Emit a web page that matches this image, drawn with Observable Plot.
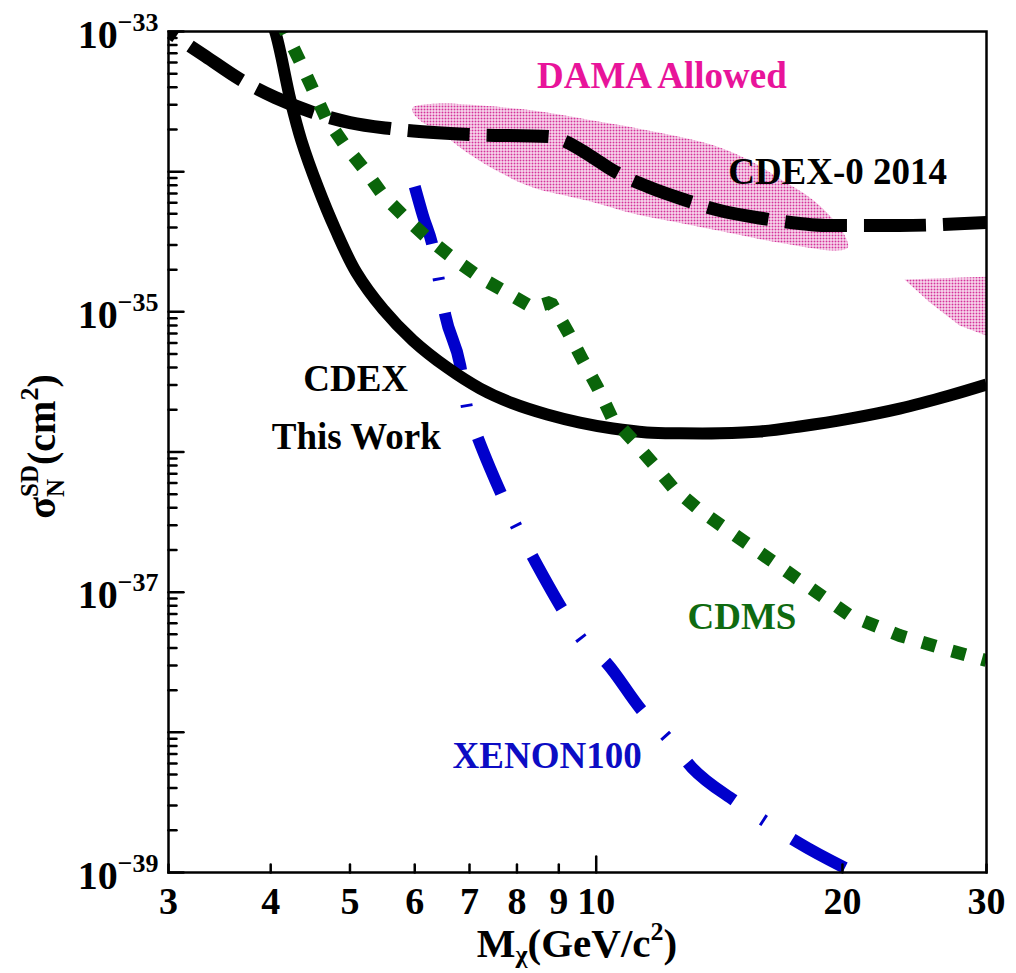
<!DOCTYPE html>
<html>
<head>
<meta charset="utf-8">
<script src="https://cdn.jsdelivr.net/npm/d3@7"></script>
<script src="https://cdn.jsdelivr.net/npm/@observablehq/plot@0.6"></script>
<style>
  html, body { margin: 0; padding: 0; background: #fff; }
  #chart svg { display: block; }
</style>
</head>
<body>
<div id="chart"></div>
<script>
// ---------- data (WIMP mass in GeV/c^2, SD cross section in cm^2) ----------
const cdexMass  = [3.95, 4.05, 4.23, 4.36, 4.57, 4.80, 5.09, 5.49, 5.97, 6.57, 7.21, 7.91, 8.71, 9.55, 10.48, 11.53, 12.66, 14.16, 15.85, 17.74, 20.41, 23.49, 27.04, 30.0];
const cdexSigma = [1.41e-33, 1.0e-33, 3.22e-34, 1.67e-34, 7.71e-35, 3.86e-35, 1.91e-35, 1.04e-35, 6.25e-36, 4.01e-36, 2.84e-36, 2.22e-36, 1.85e-36, 1.62e-36, 1.47e-36, 1.38e-36, 1.36e-36, 1.36e-36, 1.40e-36, 1.52e-36, 1.73e-36, 2.04e-36, 2.53e-36, 3.03e-36];

const cdex0Mass  = [3.00, 3.33, 3.67, 4.05, 4.51, 5.00, 5.60, 7.01, 8.73, 9.11, 9.83, 10.48, 11.63, 12.91, 14.16, 15.98, 17.74, 19.08, 23.49, 30.0];
const cdex0Sigma = [1.0e-33, 6.64e-34, 4.55e-34, 3.38e-34, 2.64e-34, 2.24e-34, 2.03e-34, 1.84e-34, 1.78e-34, 1.67e-34, 1.30e-34, 1.02e-34, 7.71e-35, 6.22e-35, 5.28e-35, 4.63e-35, 4.27e-35, 4.13e-35, 4.13e-35, 4.34e-35];

const cdmsMass  = [4.11, 4.17, 4.35, 4.51, 4.67, 4.93, 5.22, 5.49, 5.84, 6.23, 6.69, 7.21, 7.78, 8.37, 8.80, 9.24, 9.63, 10.05, 10.45, 11.09, 11.73, 12.41, 13.39, 15.41, 17.74, 20.41, 23.49, 27.04, 30.0];
const cdmsSigma = [1.2e-33, 1.0e-33, 6.01e-34, 3.79e-34, 2.43e-34, 1.54e-34, 1.02e-34, 6.76e-35, 4.71e-35, 3.33e-35, 2.40e-35, 1.76e-35, 1.37e-35, 1.07e-35, 1.17e-35, 7.13e-36, 4.50e-36, 2.84e-36, 1.76e-36, 1.21e-36, 8.28e-37, 5.58e-37, 3.83e-37, 2.15e-37, 1.21e-37, 6.82e-38, 4.91e-38, 3.84e-38, 3.25e-38];

const xenonMass  = [6.00, 6.14, 6.32, 6.43, 6.54, 6.82, 6.95, 7.17, 7.42, 7.69, 8.00, 8.37, 9.11, 9.61, 10.31, 11.34, 12.24, 13.09, 14.81, 16.16, 17.64, 20.46];
const xenonSigma = [7.83e-35, 4.86e-35, 2.83e-35, 1.62e-35, 9.42e-36, 4.14e-36, 2.08e-36, 1.25e-36, 7.62e-37, 4.73e-37, 2.89e-37, 1.77e-37, 7.40e-38, 4.59e-38, 3.10e-38, 1.46e-38, 9.04e-39, 5.61e-39, 3.21e-39, 2.28e-39, 1.64e-39, 1.03e-39];

// DAMA allowed regions (closed contours)
const damaMass  = [5.97, 6.45, 6.95, 8.37, 9.74, 11.09, 12.76, 14.16, 15.41, 16.90, 18.24, 19.29, 20.13, 20.30, 19.56, 16.90, 14.69, 12.76, 11.09, 9.74, 8.37, 7.63, 6.95, 6.45, 6.09, 5.97];
const damaSigma = [2.87e-34, 3.06e-34, 3.01e-34, 2.73e-34, 2.36e-34, 2.07e-34, 1.75e-34, 1.49e-34, 1.20e-34, 8.65e-35, 6.55e-35, 4.86e-35, 3.51e-35, 2.88e-35, 2.74e-35, 3.08e-35, 3.62e-35, 4.27e-35, 5.03e-35, 6.22e-35, 7.71e-35, 9.86e-35, 1.37e-34, 1.90e-34, 2.32e-34, 2.64e-34];
const dama2Mass  = [23.82, 31.0, 31.0, 27.81, 25.56];
const dama2Sigma = [1.70e-35, 1.79e-35, 6.3e-36, 8.0e-36, 1.17e-35];

// annotations
const labelText  = ["DAMA Allowed", "CDEX-0 2014", "CDEX", "This Work", "CDMS", "XENON100"];
const labelMass  = [12.03, 19.73, 5.08, 5.09, 15.07, 8.71];
const labelSigma = [4.77e-34, 9.86e-35, 3.29e-36, 1.27e-36, 6.59e-38, 6.73e-39];
const labelColor = ["#e8149a", "#000000", "#000000", "#000000", "#0f6a10", "#0c0cc4"];

// axis ticks
const xTickValues  = [3, 4, 5, 6, 7, 8, 9, 10, 20, 30];
const xMajorTicks  = [10];
const xMinorTicks  = [3, 4, 5, 6, 7, 8, 9, 20, 30];
const yLabelValues = [1e-33, 1e-35, 1e-37, 1e-39];
const yMajorTicks  = [1e-39, 1e-38, 1e-37, 1e-36, 1e-35, 1e-34, 1e-33];
const yMinorTicks  = d3.range(-39, -33).flatMap(e => d3.range(2, 10).map(k => +(k + "e" + e)));

// ---------- build ----------
const table = (ms, ss) => ms.map((m, i) => ({m, s: ss[i]}));
const labels = labelText.map((t, i) => ({t, m: labelMass[i], s: labelSigma[i], c: labelColor[i]}));
const tickShape = {draw(context, l) { context.moveTo(0, 0); context.lineTo(0, -l); }};
const font = "'Liberation Serif', 'Times New Roman', Times, serif";

const chart = Plot.plot({
  width: 1016,
  height: 973,
  marginLeft: 168,
  marginRight: 30,
  marginTop: 31,
  marginBottom: 101,
  x: {type: "log", domain: [3, 30]},
  y: {type: "log", domain: [1e-39, 1e-33]},
  style: {fontFamily: font, fontWeight: "bold", fontSize: "40px", background: "white", color: "black", overflow: "visible"},
  marks: [
    Plot.line(table(damaMass, damaSigma), {x: "m", y: "s", curve: "catmull-rom-closed", fill: "url(#damaHatch)", stroke: "none", clip: true}),
    Plot.line(table(dama2Mass, dama2Sigma), {x: "m", y: "s", curve: "linear-closed", fill: "url(#damaHatch)", stroke: "none", clip: true}),
    Plot.line(table(cdex0Mass, cdex0Sigma), {x: "m", y: "s", curve: "monotone-x", stroke: "black", strokeWidth: 13, strokeDasharray: "62,17", strokeDashoffset: -26, strokeLinecap: "butt", strokeLinejoin: "round", clip: true}),
    Plot.line(table(xenonMass, xenonSigma), {x: "m", y: "s", curve: "monotone-x", stroke: "#0000cc", strokeWidth: 12, strokeDasharray: "60,34,3,33", strokeLinecap: "butt", clip: true}),
    Plot.line(table(cdexMass, cdexSigma), {x: "m", y: "s", curve: "catmull-rom", stroke: "black", strokeWidth: 12, strokeLinecap: "butt", clip: true}),
    Plot.line(table(cdmsMass, cdmsSigma), {x: "m", y: "s", curve: "linear", stroke: "#0a650a", strokeWidth: 13, strokeDasharray: "14,17", strokeLinecap: "butt", strokeLinejoin: "miter", clip: true}),
    Plot.text(labels, {x: "m", y: "s", text: "t", fill: "c", fontSize: 37, fontWeight: "bold", fontFamily: font, textAnchor: "middle", lineAnchor: "middle"}),
    Plot.frame({stroke: "black", strokeWidth: 2.5}),
    Plot.vector(yMajorTicks, {y: d => d, frameAnchor: "left", rotate: 90, length: 15, anchor: "start", shape: tickShape, stroke: "black", strokeWidth: 2.5}),
    Plot.vector(yMinorTicks, {y: d => d, frameAnchor: "left", rotate: 90, length: 8, anchor: "start", shape: tickShape, stroke: "black", strokeWidth: 2.5}),
    Plot.vector(xMajorTicks, {x: d => d, frameAnchor: "bottom", rotate: 0, length: 16, anchor: "start", shape: tickShape, stroke: "black", strokeWidth: 2.5}),
    Plot.vector(xMinorTicks, {x: d => d, frameAnchor: "bottom", rotate: 0, length: 8, anchor: "start", shape: tickShape, stroke: "black", strokeWidth: 2.5}),
    Plot.axisX({ticks: xTickValues, tickSize: 0, tickPadding: 15, tickFormat: d => String(d), label: null, fontSize: 38, fontWeight: "bold"}),
    Plot.axisY({ticks: yLabelValues, tickSize: 0, tickPadding: 10, tickFormat: d => "10^" + Math.round(Math.log10(d)), label: null, fontSize: 40, fontWeight: "bold"})
  ]
});

document.getElementById("chart").appendChild(chart);

const svg = d3.select(chart);

// hatch pattern for DAMA regions
const defs = svg.insert("defs", ":first-child");
const pat = defs.append("pattern").attr("id", "damaHatch").attr("patternUnits", "userSpaceOnUse").attr("width", 3).attr("height", 3);
pat.append("rect").attr("width", 3).attr("height", 3).attr("fill", "#ffffff");
pat.append("rect").attr("width", 2).attr("height", 2).attr("fill", "#d4339a");

// y tick labels as 10^n with superscript
svg.selectAll('g[aria-label="y-axis tick label"] text').each(function () {
  const s = this.textContent;
  const e = s.split("^")[1];
  const t = d3.select(this);
  t.text(null).attr("y", 16);
  t.append("tspan").text("10");
  t.append("tspan").attr("dy", -17).attr("font-size", 26).text("\u2212" + e.replace("-", ""));
});

const xs = chart.scale("x"), ys = chart.scale("y");
const xMid = (xs.apply(3) + xs.apply(30)) / 2;
const yMid = (ys.apply(1e-33) + ys.apply(1e-39)) / 2;
const bottom = ys.apply(1e-39);

// x axis title: M_chi (GeV/c^2)
const xt = svg.append("text")
  .attr("x", xMid).attr("y", bottom + 85)
  .attr("text-anchor", "middle")
  .attr("font-family", font).attr("font-weight", "bold").attr("font-size", 41).attr("fill", "black");
xt.append("tspan").text("M");
xt.append("tspan").attr("font-size", 26).attr("dy", 6).text("\u03c7");
xt.append("tspan").attr("dy", -6).text("(GeV/c");
xt.append("tspan").attr("font-size", 26).attr("dy", -17).text("2");
xt.append("tspan").attr("dy", 17).text(")");

// y axis title: sigma_N^SD (cm^2)
const yt = svg.append("text")
  .attr("transform", `translate(55, ${yMid - 5}) rotate(-90)`)
  .attr("text-anchor", "middle")
  .attr("font-family", font).attr("font-weight", "bold").attr("font-size", 40).attr("fill", "black");
yt.append("tspan").text("\u03c3");
yt.append("tspan").attr("font-size", 25).attr("dy", 9).text("N");
yt.append("tspan").attr("font-size", 25).attr("dx", -18).attr("dy", -26).text("SD");
yt.append("tspan").attr("dy", 17).text("(cm");
yt.append("tspan").attr("font-size", 26).attr("dy", -17).text("2");
yt.append("tspan").attr("dy", 17).text(")");
</script>
</body>
</html>
